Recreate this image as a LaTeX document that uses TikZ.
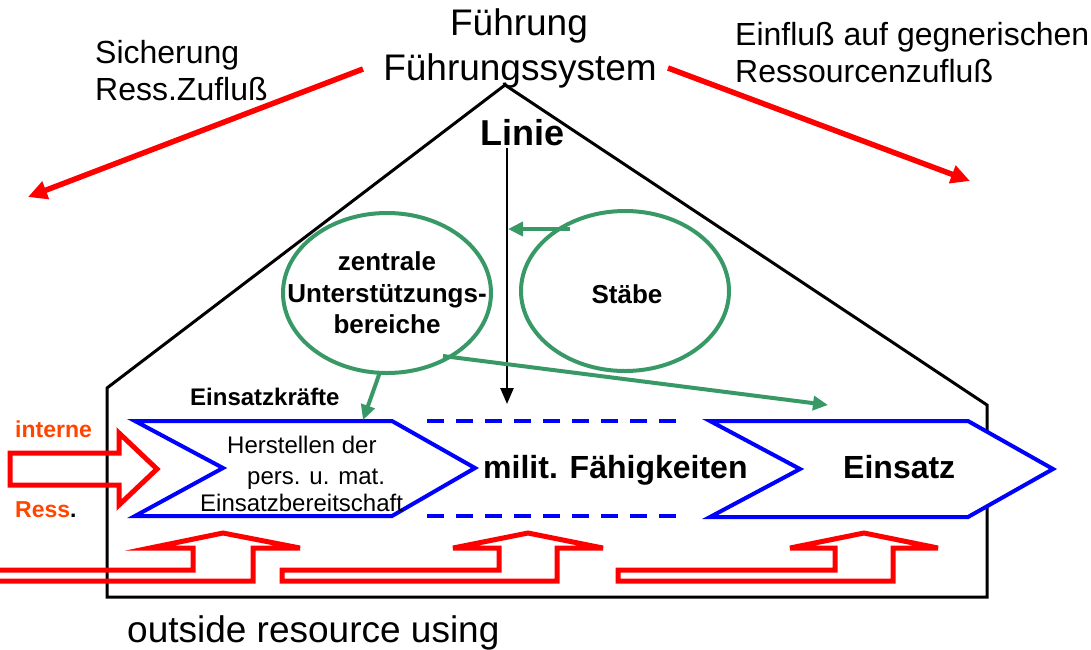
\documentclass[tikz,border=0pt]{standalone}
\usepackage{fontspec}
\setmainfont{Liberation Sans}
\usetikzlibrary{shapes.geometric,arrows.meta}
\definecolor{myred}{RGB}{255,0,0}
\definecolor{myorange}{RGB}{255,69,0}
\definecolor{mygreen}{RGB}{56,153,102}
\definecolor{myblue}{RGB}{0,0,255}
\begin{document}
\begin{tikzpicture}[x=1pt,y=-1pt,
 house/.style={line width=3pt, black, line join=miter},
 chev/.style={draw=myblue, line width=4pt, fill=white, line join=miter},
 dashline/.style={draw=myblue, line width=4pt, dash pattern=on 17pt off 12pt},
 garrow/.style={draw=mygreen, line width=4pt, -{Triangle[length=15pt,width=14pt]}},
 barrow/.style={draw=black, line width=2.5pt, -{Triangle[length=16pt,width=13pt]}},
 rarrow/.style={draw=myred, line width=5.5pt, -{Triangle[length=19pt,width=18pt]}},
 rshape/.style={draw=myred, line width=5pt, line join=miter},
 ell/.style={ellipse, draw=mygreen, line width=4pt, minimum width=208pt, minimum height=160pt, inner sep=0pt},
 txt/.style={inner sep=0pt, anchor=base},
 txtw/.style={inner sep=0pt, anchor=base west},
 big/.style={font=\fontsize{37}{44}\selectfont},
 mid/.style={font=\fontsize{32}{37}\selectfont},
]
\useasboundingbox (0,0) rectangle (1091,649);
% house
\draw[house] (107,597) -- (107,388) -- (505,85) -- (987,405) -- (987,597) -- cycle;
% bottom red bent arrows
\draw[rshape] (-20,570) -- (193,570) -- (193,548) -- (150,548) -- (223,533) -- (300,548) -- (253,548) -- (253,581) -- (-20,581);
\draw[rshape] (282,570) -- (499,570) -- (499,548) -- (453,548) -- (528,533) -- (603,548) -- (557,548) -- (557,581) -- (282,581) -- cycle;
\draw[rshape] (618,570) -- (835,570) -- (835,548) -- (790,548) -- (864,533) -- (938,548) -- (893,548) -- (893,581) -- (618,581) -- cycle;
% interne arrow
\draw[rshape] (10,453) -- (119,453) -- (119,433) -- (157,469) -- (119,505) -- (119,485) -- (10,485) -- cycle;
% chevrons
\draw[chev] (135,421) -- (392,421) -- (475,468) -- (392,516) -- (135,516) -- (223,468) -- cycle;
\draw[dashline] (427,421) -- (677,421);
\draw[dashline] (427,516) -- (677,516);
\draw[chev] (710,421) -- (968,421) -- (1053,469) -- (968,517) -- (710,517) -- (800,469) -- cycle;
% ellipses
\node[ell] (zu) at (387,293) {};
\node[ell] (st) at (625,291) {};
\node[txt, font=\bfseries\fontsize{26}{31}\selectfont] (zutxt1) at (387,270) {zentrale};
\node[txt, font=\bfseries\fontsize{26}{31}\selectfont] (zutxt2) at (387,302) {Unterstützungs-};
\node[txt, font=\bfseries\fontsize{26}{31}\selectfont] (zutxt3) at (387,333) {bereiche};
\node[txt, font=\bfseries\fontsize{26}{31}\selectfont] (sttxt) at (627,303) {Stäbe};
% top texts
\node[txt, big] (fu1) at (519,35) {Führung};
\node[txt, big] (fu2) at (520,80) {Führungssystem};
\node[txtw, mid] (si1) at (95,63) {Sicherung};
\node[txtw, mid] (si2) at (95,100) {Ress.Zufluß};
\node[txtw, mid] (ei1) at (735,45) {Einfluß auf gegnerischen};
\node[txtw, mid] (ei2) at (735,82) {Ressourcenzufluß};
\node[txt, font=\bfseries\fontsize{36}{40}\selectfont] (linie) at (522,145) {Linie};
\node[txtw, big] (outside) at (127,642) {outside resource using};
% chevron texts
\node[txtw, font=\bfseries\fontsize{24}{28}\selectfont] (ek) at (190,405) {Einsatzkräfte};
\node[txtw, font=\fontsize{24}{28}\selectfont] (h1) at (227,453) {Herstellen der};
\node[txtw, font=\fontsize{24}{28}\selectfont] (h2) at (247,484) {pers. u. mat.};
\node[txtw, font=\fontsize{24}{28}\selectfont] (h3) at (200,511) {Einsatzbereitschaft};
\node[txtw, font=\bfseries\fontsize{32}{37}\selectfont] (mf) at (483,478) {milit. Fähigkeiten};
\node[txtw, font=\bfseries\fontsize{32}{37}\selectfont] (es) at (843,478) {Einsatz};
\node[txtw, font=\bfseries\fontsize{23}{27}\selectfont, text=myorange] (int) at (15,437) {interne};
\node[txtw, font=\bfseries\fontsize{23}{27}\selectfont] (ress) at (15,517) {\textcolor{myorange}{Ress}.};
% coordinates
\coordinate (lt) at (507,148);
\coordinate (lb) at (507,404);
\coordinate (lmid) at (508,229);
\coordinate (stL) at (570,229);
\coordinate (zuB) at (380,372);
\coordinate (ch1) at (363,420);
\coordinate (zuR) at (443,356);
\coordinate (esT) at (828,405);
\coordinate (redL) at (363,69);
\coordinate (redLend) at (28,197);
\coordinate (redR) at (668,68);
\coordinate (redRend) at (970,181);
% connectors
\draw[barrow] (lt) -- (lb);
\draw[garrow] (stL) -- (lmid);
\draw[garrow] (zuB) -- (ch1);
\draw[garrow] (zuR) -- (esT);
\draw[rarrow] (redL) -- (redLend);
\draw[rarrow] (redR) -- (redRend);
\end{tikzpicture}
\end{document}
